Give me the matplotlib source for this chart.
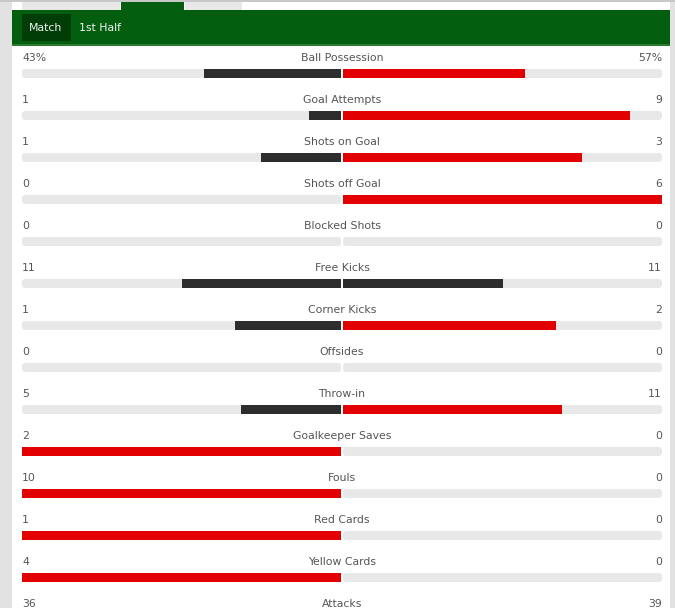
import matplotlib
matplotlib.use("Agg")
import matplotlib.pyplot as plt
from matplotlib.patches import FancyBboxPatch, Rectangle

plt.rcParams["font.family"] = ["DejaVu Sans Condensed", "DejaVu Sans"]

# match stats, home (left) vs away (right)
stats = ["Ball Possession", "Goal Attempts", "Shots on Goal", "Shots off Goal",
         "Blocked Shots", "Free Kicks", "Corner Kicks", "Offsides", "Throw-in",
         "Goalkeeper Saves", "Fouls", "Red Cards", "Yellow Cards", "Attacks"]
home = [43, 1, 1, 0, 0, 11, 1, 0, 5, 2, 10, 1, 4, 36]
away = [57, 9, 3, 6, 0, 11, 2, 0, 11, 0, 0, 0, 0, 39]
home_labels = ["43%"] + [str(v) for v in home[1:]]
away_labels = ["57%"] + [str(v) for v in away[1:]]
tabs = ["Match", "1st Half"]

RED, DARK, TRACK = "#e30000", "#2d2d2d", "#e8e8e8"
GREEN, GREEN_DK = "#035e10", "#013d07"
TXT = "#555555"
FS = 7.8

W, H = 675, 608
fig = plt.figure(figsize=(W / 100, H / 100), dpi=100)
ax = fig.add_axes([0, 0, 1, 1])
ax.set_xlim(0, W)
ax.set_ylim(H, 0)
ax.axis("off")

# page chrome
ax.add_patch(Rectangle((0, 0), 12, H, facecolor="#e2e2e2", edgecolor="none"))
ax.add_patch(Rectangle((670, 0), 5, H, facecolor="#e2e2e2", edgecolor="none"))
ax.add_patch(Rectangle((0, 0), W, 2, facecolor="#c8c8c8", edgecolor="none"))
ax.add_patch(Rectangle((22, 2), 98, 8, facecolor="#e8e8e8", edgecolor="none"))
ax.add_patch(Rectangle((121, 2), 63, 8, facecolor=GREEN, edgecolor="none"))
ax.add_patch(Rectangle((185, 2), 57, 8, facecolor="#e8e8e8", edgecolor="none"))
ax.add_patch(Rectangle((12, 10), 658, 35, facecolor=GREEN, edgecolor="none"))
ax.add_patch(Rectangle((12, 44), 658, 1.5, facecolor="#2a7a30", edgecolor="none"))
ax.add_patch(Rectangle((22, 14), 49, 27, facecolor=GREEN_DK, edgecolor="none"))
ax.text(46, 28, tabs[0], color="#f4f4f4", fontsize=FS, ha="center", va="center")
ax.text(100, 28, tabs[1], color="#f4f4f4", fontsize=FS, ha="center", va="center")

LEFT, RIGHT, MID = 22, 662, 342
HALF = MID - 1 - LEFT
ROW0, STEP, BAR_H = 58, 42, 9

for i, name in enumerate(stats):
    ty = ROW0 + i * STEP
    by = ty + 15.5
    ax.text(LEFT, ty, home_labels[i], color=TXT, fontsize=FS, ha="left", va="center")
    ax.text(RIGHT, ty, away_labels[i], color=TXT, fontsize=FS, ha="right", va="center")
    ax.text(MID, ty, name, color=TXT, fontsize=FS, ha="center", va="center")
    # track, split in the middle
    for x0, x1 in ((LEFT, MID - 1), (MID + 1, RIGHT)):
        ax.add_patch(FancyBboxPatch((x0 + 2, by - BAR_H / 2 + 2), x1 - x0 - 4, BAR_H - 4,
                                    boxstyle="round,pad=2,rounding_size=3",
                                    facecolor=TRACK, edgecolor="none", zorder=1))
    total = home[i] + away[i]
    if total == 0:
        continue
    hc = RED if home[i] > away[i] else DARK
    ac = RED if away[i] > home[i] else DARK
    ax.barh(by, -home[i] / total * HALF, left=MID - 1, height=BAR_H,
            color=hc, zorder=2)
    ax.barh(by, away[i] / total * HALF, left=MID + 1, height=BAR_H,
            color=ac, zorder=2)

fig.savefig("out.png", dpi=100)
